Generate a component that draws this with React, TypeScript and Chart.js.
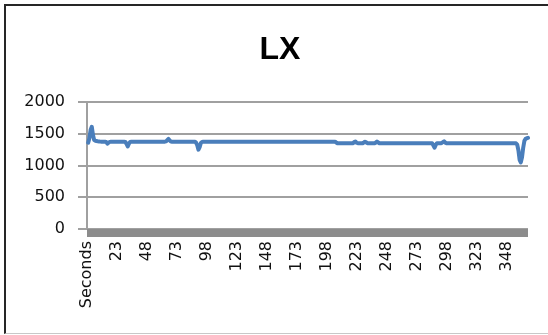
import { useEffect, useRef } from "react";
import { Chart, registerables } from "chart.js";

Chart.register(...registerables);

const TITLE = "LX";
const FIRST_CATEGORY = "Seconds";
const SECOND_START = -1;
const SECOND_COUNT = 368;
const LABEL_INTERVAL = 25;
const Y_MIN = 0;
const Y_MAX = 2000;
const Y_STEP = 500;

// Light level readings, one per second (first slot holds the header cell).
const LX: (number | null)[] = [
  null, 1360, 1430, 1560, 1610, 1480, 1400, 1390, 1385, 1380,
  1378, 1376, 1375, 1375, 1375, 1374, 1370, 1345, 1360, 1372,
  1375, 1375, 1375, 1375, 1375, 1375, 1375, 1375, 1375, 1375,
  1375, 1375, 1372, 1340, 1300, 1345, 1372, 1375, 1375, 1375,
  1375, 1375, 1375, 1375, 1375, 1375, 1375, 1375, 1375, 1375,
  1375, 1375, 1375, 1375, 1375, 1375, 1375, 1375, 1375, 1375,
  1375, 1375, 1375, 1375, 1375, 1375, 1380, 1400, 1420, 1395,
  1378, 1375, 1375, 1375, 1375, 1375, 1375, 1375, 1375, 1375,
  1375, 1375, 1375, 1375, 1375, 1375, 1375, 1375, 1375, 1375,
  1375, 1360, 1320, 1250, 1290, 1355, 1372, 1375, 1375, 1375,
  1375, 1375, 1375, 1375, 1375, 1375, 1375, 1375, 1375, 1375,
  1375, 1375, 1375, 1375, 1375, 1375, 1375, 1375, 1375, 1375,
  1375, 1375, 1375, 1375, 1375, 1375, 1375, 1375, 1375, 1375,
  1375, 1375, 1375, 1375, 1375, 1375, 1375, 1375, 1375, 1375,
  1375, 1375, 1375, 1375, 1375, 1375, 1375, 1375, 1375, 1375,
  1375, 1375, 1375, 1375, 1375, 1375, 1375, 1375, 1375, 1375,
  1375, 1375, 1375, 1375, 1375, 1375, 1375, 1375, 1375, 1375,
  1375, 1375, 1375, 1375, 1375, 1375, 1375, 1375, 1375, 1375,
  1375, 1375, 1375, 1375, 1375, 1375, 1375, 1375, 1375, 1375,
  1375, 1375, 1375, 1375, 1375, 1375, 1375, 1375, 1375, 1375,
  1375, 1375, 1375, 1375, 1375, 1375, 1375, 1375, 1362, 1350,
  1350, 1350, 1350, 1350, 1350, 1350, 1350, 1350, 1350, 1350,
  1350, 1350, 1352, 1368, 1378, 1358, 1350, 1350, 1350, 1350,
  1350, 1362, 1375, 1365, 1350, 1350, 1350, 1350, 1350, 1350,
  1350, 1360, 1378, 1362, 1350, 1350, 1350, 1350, 1350, 1350,
  1350, 1350, 1350, 1350, 1350, 1350, 1350, 1350, 1350, 1350,
  1350, 1350, 1350, 1350, 1350, 1350, 1350, 1350, 1350, 1350,
  1350, 1350, 1350, 1350, 1350, 1350, 1350, 1350, 1350, 1350,
  1350, 1350, 1350, 1350, 1350, 1350, 1350, 1350, 1350, 1318,
  1280, 1325, 1350, 1350, 1350, 1350, 1355, 1368, 1382, 1360,
  1350, 1350, 1350, 1350, 1350, 1350, 1350, 1350, 1350, 1350,
  1350, 1350, 1350, 1350, 1350, 1350, 1350, 1350, 1350, 1350,
  1350, 1350, 1350, 1350, 1350, 1350, 1350, 1350, 1350, 1350,
  1350, 1350, 1350, 1350, 1350, 1350, 1350, 1350, 1350, 1350,
  1350, 1350, 1350, 1350, 1350, 1350, 1350, 1350, 1350, 1350,
  1350, 1350, 1350, 1350, 1350, 1350, 1350, 1350, 1350, 1330,
  1240, 1090, 1050, 1130, 1280, 1390, 1420, 1430, 1435,
];

const CATEGORIES: string[] = [
  FIRST_CATEGORY,
  ...Array.from({ length: SECOND_COUNT }, (_, i) => String(SECOND_START + i)),
];

// Thick grey base strip hanging below the zero line
const axisBand = {
  id: "axisBand",
  beforeDatasetsDraw(chart: any) {
    const { ctx, chartArea, scales } = chart;
    const y0 = scales.y.getPixelForValue(0);
    ctx.save();
    ctx.fillStyle = "#8c8c8c";
    ctx.fillRect(chartArea.left, y0, chartArea.right - chartArea.left, 8);
    ctx.restore();
  },
};

export default function App() {
  const canvasRef = useRef<HTMLCanvasElement | null>(null);

  useEffect(() => {
    const canvas = canvasRef.current;
    if (!canvas) return;
    const chart = new Chart(canvas, {
      type: "line",
      data: {
        labels: CATEGORIES,
        datasets: [
          {
            label: TITLE,
            data: LX,
            borderColor: "#4a7ebb",
            backgroundColor: "#4a7ebb",
            borderWidth: 4,
            pointRadius: 0,
            tension: 0,
            borderJoinStyle: "round",
            borderCapStyle: "round",
          },
        ],
      },
      options: {
        animation: false,
        responsive: false,
        maintainAspectRatio: false,
        events: [],
        layout: { padding: { left: 10, right: 20, top: 102, bottom: 0 } },
        plugins: {
          legend: { display: false },
          tooltip: { enabled: false },
          title: { display: false },
        },
        scales: {
          x: {
            type: "category",
            offset: false,
            grid: { display: false, drawTicks: false },
            border: { display: false },
            ticks: {
              autoSkip: false,
              minRotation: 90,
              maxRotation: 90,
              padding: 12,
              color: "#111",
              font: { family: "DejaVu Sans", size: 16 },
              callback: (_v: any, i: number) =>
                i % LABEL_INTERVAL === 0 ? CATEGORIES[i] : null,
            },
            afterFit: (s: any) => {
              s.height = 106;
            },
          },
          y: {
            min: Y_MIN,
            max: Y_MAX,
            ticks: {
              stepSize: Y_STEP,
              padding: 13,
              color: "#111",
              font: { family: "DejaVu Sans", size: 16 },
              callback: (v: any) => String(v),
            },
            grid: { color: "#a0a0a0", lineWidth: 2, tickLength: 9 },
            border: { color: "#a0a0a0", width: 2 },
            afterFit: (s: any) => {
              s.width = 77;
            },
          },
        },
      },
      plugins: [axisBand],
    });
    return () => chart.destroy();
  }, []);

  return (
    <div
      style={{
        position: "fixed",
        left: 0,
        top: 0,
        width: 548,
        height: 335,
        background: "#fff",
        overflow: "hidden",
      }}
    >
      <div
        style={{
          position: "absolute",
          left: 4,
          top: 4,
          right: 0,
          bottom: 1,
          borderLeft: "2px solid #262626",
          borderTop: "2px solid #262626",
          borderBottom: "1px solid #c8c8c8",
        }}
      />
      <canvas
        ref={canvasRef}
        width={548}
        height={335}
        style={{ position: "absolute", left: 0, top: 0, width: 548, height: 335 }}
      />
      <div
        style={{
          position: "absolute",
          left: 230,
          width: 100,
          top: 29,
          height: 38,
          lineHeight: "38px",
          textAlign: "center",
          fontFamily: "'Liberation Sans', Arial, sans-serif",
          fontWeight: "bold",
          fontSize: 32,
          color: "#000",
        }}
      >
        {TITLE}
      </div>
    </div>
  );
}
